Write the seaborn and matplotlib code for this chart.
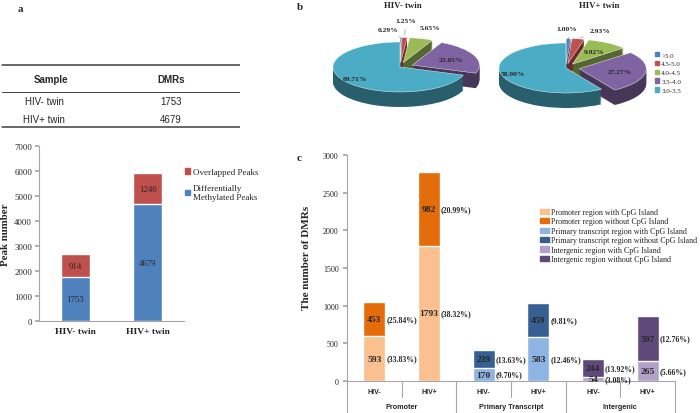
import numpy as np
import matplotlib
matplotlib.use("Agg")
import matplotlib.pyplot as plt
import matplotlib.colors as mcolors
from matplotlib.patches import Patch
import seaborn as sns
import pandas as pd

sns.set_theme(style="white")
plt.rcParams['font.family'] = ['Liberation Serif', 'DejaVu Serif']

#### panel a data
table_cols = ["Sample", "DMRs"]
table_samples = ["HIV- twin", "HIV+ twin"]
table_dmrs = ["1753", "4679"]
twins = ["HIV- twin", "HIV+ twin"]
diff_peaks = [1753, 4679]
overlap_peaks = [914, 1240]

#### panel b data
pie_titles = ["HIV- twin", "HIV+ twin"]
pie_ranges = [">5.0", "4.5-5.0", "4.0-4.5", "3.5-4.0", "3.0-3.5"]
pie_hiv_neg = [0.29, 1.25, 5.65, 23.05, 69.71]
pie_hiv_pos = [1.00, 2.93, 9.92, 27.27, 58.90]
pie_colors = ["#4F81BD", "#C0504D", "#9BBB59", "#8064A2", "#4BACC6"]

#### panel c data
regions = ["Promoter", "Primary Transcript", "Intergenic"]
status = ["HIV-", "HIV+"]
with_cpg = [593, 1793, 170, 583, 54, 265]
with_cpg_pct = ["33.83%", "38.32%", "9.70%", "12.46%", "3.08%", "5.66%"]
without_cpg = [453, 982, 239, 459, 244, 597]
without_cpg_pct = ["25.84%", "20.99%", "13.63%", "9.81%", "13.92%", "12.76%"]
light_colors = ["#FAC090", "#8EB4E3", "#B3A2C7"]
dark_colors = ["#E46C0A", "#376092", "#5F497A"]
legend_c = ["Promoter region with CpG Island", "Promoter region without CpG Island",
            "Primary transcript region with CpG Island", "Primary transcript region without CpG Island",
            "Intergenic region with CpG Island", "Intergenic region without CpG Island"]

W, H = 700, 414
fig = plt.figure(figsize=(7, 4.14), dpi=100)


def px_axes(x0, y0, x1, y1):
    return fig.add_axes([x0 / W, 1 - y1 / H, (x1 - x0) / W, (y1 - y0) / H])


axis_grey = "#A6A6A6"
sans = ["Liberation Sans", "DejaVu Sans"]

####Panel letters
fig.text(18 / W, 1 - 9 / H, "a", fontsize=8, fontweight="bold", va="center")
fig.text(297 / W, 1 - 8 / H, "b", fontsize=8, fontweight="bold", va="center")
fig.text(297 / W, 1 - 159 / H, "c", fontsize=8, fontweight="bold", va="center")

####Table
axt = px_axes(0, 60, 240, 132)
axt.set_xlim(0, 240)
axt.set_ylim(132, 60)
axt.axis("off")
axt.axhline(66, xmin=0.01, color="#404040", lw=1.1)
axt.axhline(92.5, xmin=0.01, color="#404040", lw=0.7)
axt.axhline(128, xmin=0.01, color="#404040", lw=1.1)
col_x = [51, 171]
for cx, name in zip(col_x, table_cols):
    axt.text(cx, 80, name, ha="center", va="center", fontsize=7, fontweight="bold", family=sans)
for ry, s, d in zip([102, 120], table_samples, table_dmrs):
    axt.text(col_x[0] - 7, ry, s, ha="center", va="center", fontsize=7, family=sans)
    axt.text(col_x[1], ry, d, ha="center", va="center", fontsize=7, family=sans)

####Panel a stacked bars
ax_a = px_axes(39, 147, 184, 322)
df_a = pd.DataFrame({"twin": twins, "diff": diff_peaks, "overlap": overlap_peaks})
df_a["total"] = df_a["diff"] + df_a["overlap"]
sns.barplot(data=df_a, x="twin", y="total", color="#C0504D", saturation=1, width=0.4, ax=ax_a)
sns.barplot(data=df_a, x="twin", y="diff", color="#4F81BD", saturation=1, width=0.4, ax=ax_a)
for i, row in df_a.iterrows():
    ax_a.text(i, row["diff"] / 2, str(row["diff"]), ha="center", va="center", fontsize=6.3)
    ax_a.text(i, row["diff"] + row["overlap"] / 2, str(row["overlap"]), ha="center", va="center", fontsize=6.3)
ax_a.set_xlim(-0.5, 1.5)
ax_a.set_ylim(0, 7000)
ax_a.set_yticks(range(0, 7001, 1000))
ax_a.tick_params(axis="y", labelsize=6.3, length=3, left=True, color=axis_grey, pad=2)
ax_a.tick_params(axis="x", labelsize=6.8, length=0, pad=4)
for lab in ax_a.get_xticklabels():
    lab.set_fontweight("bold")
ax_a.set_xlabel("")
ax_a.set_ylabel("Peak number", fontsize=7.8, fontweight="bold")
ax_a.yaxis.set_label_coords(-0.2, 0.5)
for sp in ["top", "right"]:
    ax_a.spines[sp].set_visible(False)
for sp in ["left", "bottom"]:
    ax_a.spines[sp].set_color(axis_grey)
    ax_a.spines[sp].set_linewidth(0.8)

fig.legend(handles=[Patch(color="#C0504D", label="Overlapped Peaks"),
                    Patch(color="#4F81BD", label="Differentially\nMethylated Peaks")],
           loc="upper left", bbox_to_anchor=(185 / W, 1 - 169 / H), frameon=False,
           fontsize=6.5, handlelength=0.55, handleheight=0.55, handletextpad=0.3,
           labelspacing=0.9, borderpad=0, borderaxespad=0)

####Panel b pies
def darker(c, f):
    r, g, b = mcolors.to_rgb(c)
    return (r * f, g * f, b * f)


side_colors = [darker(c, 0.55) for c in pie_colors]
explode = [0.18, 0.18, 0.18, 0.2, 0]
pie_centers = [(400, 68), (566, 69)]
# label offsets (points) for the two thinnest slices of each pie
small_offsets = [[(-2, 6, "right"), (1, 12, "center")],
                 [(-1, 7, "center"), (8, 6, "left")]]
rx, ry = 67, 25
for vals, (pcx, pcy), offs in zip([pie_hiv_neg, pie_hiv_pos], pie_centers, small_offsets):
    axp = px_axes(pcx - 1.4 * rx, pcy - 2.2 * ry, pcx + 1.4 * rx, pcy + 2.2 * ry)
    for d in np.linspace(-0.6, -0.03, 14):
        axp.pie(vals, colors=side_colors, startangle=90, counterclock=False, explode=explode,
                center=(0, d), wedgeprops=dict(linewidth=0))
    wedges, _ = axp.pie(vals, colors=pie_colors, startangle=90, counterclock=False, explode=explode,
                        wedgeprops=dict(edgecolor="white", linewidth=0.3))
    axp.set_xlim(-1.4, 1.4)
    axp.set_ylim(-2.2, 2.2)
    axp.set_aspect("auto")
    axp.axis("off")
    for j, (w, v) in enumerate(zip(wedges, vals)):
        ang = np.deg2rad((w.theta1 + w.theta2) / 2)
        wx, wy = w.center
        lab = "%.2f%%" % v
        if v >= 8:
            r = 0.82 if v > 50 else 0.62
            axp.text(wx + r * np.cos(ang), wy + r * np.sin(ang), lab, ha="center", va="center",
                     fontsize=5.4, fontweight="bold")
        elif j < 2:
            ox, oy, ha = offs[j]
            axp.annotate(lab, (wx + np.cos(ang), wy + np.sin(ang)), xytext=(ox, oy),
                         textcoords="offset points", ha=ha, va="center", fontsize=5.4,
                         fontweight="bold", arrowprops=dict(arrowstyle="-", lw=0.4, color="#808080"))
        else:
            axp.text(wx + 1.45 * np.cos(ang), wy + 1.45 * np.sin(ang), lab, ha="center", va="center",
                     fontsize=5.4, fontweight="bold")

fig.text(403 / W, 1 - 6 / H, pie_titles[0], ha="center", va="center", fontsize=6.3, fontweight="bold")
fig.text(599 / W, 1 - 6 / H, pie_titles[1], ha="center", va="center", fontsize=6.3, fontweight="bold")
fig.legend(handles=[Patch(color=c, label=l) for c, l in zip(pie_colors, pie_ranges)],
           loc="upper left", bbox_to_anchor=(655 / W, 1 - 53 / H), frameon=False,
           fontsize=5, handlelength=0.6, handleheight=0.6, handletextpad=0.3,
           labelspacing=0.45, borderpad=0, borderaxespad=0)

####Panel c stacked bars
ax_c = px_axes(347, 156, 675, 382)
bars = [r + " " + s for r in regions for s in status]
df_c = pd.DataFrame({"bar": bars, "with": with_cpg, "without": without_cpg})
df_c["total"] = df_c["with"] + df_c["without"]
sns.barplot(data=df_c, x="bar", y="total", hue="bar", palette=[c for c in dark_colors for _ in status],
            saturation=1, width=0.4, legend=False, ax=ax_c)
sns.barplot(data=df_c, x="bar", y="with", hue="bar", palette=[c for c in light_colors for _ in status],
            saturation=1, width=0.4, legend=False, ax=ax_c)
for i, row in df_c.iterrows():
    ax_c.text(i, row["with"] / 2, str(row["with"]), ha="center", va="center", fontsize=6.8, fontweight="bold")
    ax_c.text(i + 0.22, row["with"] / 2, "(" + with_cpg_pct[i] + ")", ha="left", va="center",
              fontsize=5.6, fontweight="bold")
    ymid = row["with"] + row["without"] / 2
    ax_c.text(i, ymid, str(row["without"]), ha="center", va="center", fontsize=6.8, fontweight="bold")
    ax_c.text(i + 0.22, ymid, "(" + without_cpg_pct[i] + ")", ha="left", va="center",
              fontsize=5.6, fontweight="bold")
ax_c.set_xlim(-0.5, 5.5)
ax_c.set_ylim(0, 3000)
ax_c.set_yticks(range(0, 3001, 500))
ax_c.set_xticks([])
ax_c.set_xlabel("")
ax_c.tick_params(axis="y", labelsize=5.8, length=3, left=True, color=axis_grey, pad=3)
ax_c.set_ylabel("The number of DMRs", fontsize=8, fontweight="bold")
ax_c.yaxis.set_label_coords(-0.11, 0.55)
for sp in ["top", "right"]:
    ax_c.spines[sp].set_visible(False)
for sp in ["left", "bottom"]:
    ax_c.spines[sp].set_color(axis_grey)
    ax_c.spines[sp].set_linewidth(0.8)

trans = ax_c.get_xaxis_transform()
for i, b in enumerate(bars):
    ax_c.text(i, -0.045, status[i % 2], transform=trans, ha="center", va="center",
              fontsize=5, fontweight="bold", family=sans)
for k, reg in enumerate(regions):
    ax_c.text(2 * k + 0.5, -0.112, reg, transform=trans, ha="center", va="center",
              fontsize=5.2, fontweight="bold", family=sans)
    ax_c.plot([2 * k + 0.5, 2 * k + 0.5], [0, -0.07], transform=trans, color=axis_grey,
              lw=0.8, clip_on=False)
for xs in np.arange(-0.5, 6, 2):
    ax_c.plot([xs, xs], [0, -0.145], transform=trans, color=axis_grey, lw=0.8, clip_on=False)

legend_colors = [c for pair in zip(light_colors, dark_colors) for c in pair]
fig.legend(handles=[Patch(color=c, label=l) for c, l in zip(legend_colors, legend_c)],
           loc="upper left", bbox_to_anchor=(540 / W, 1 - 209 / H), frameon=False,
           fontsize=5.8, handlelength=1.1, handleheight=0.6, handletextpad=0.3,
           labelspacing=0.18, borderpad=0, borderaxespad=0)

fig.savefig("out.png", dpi=100)
